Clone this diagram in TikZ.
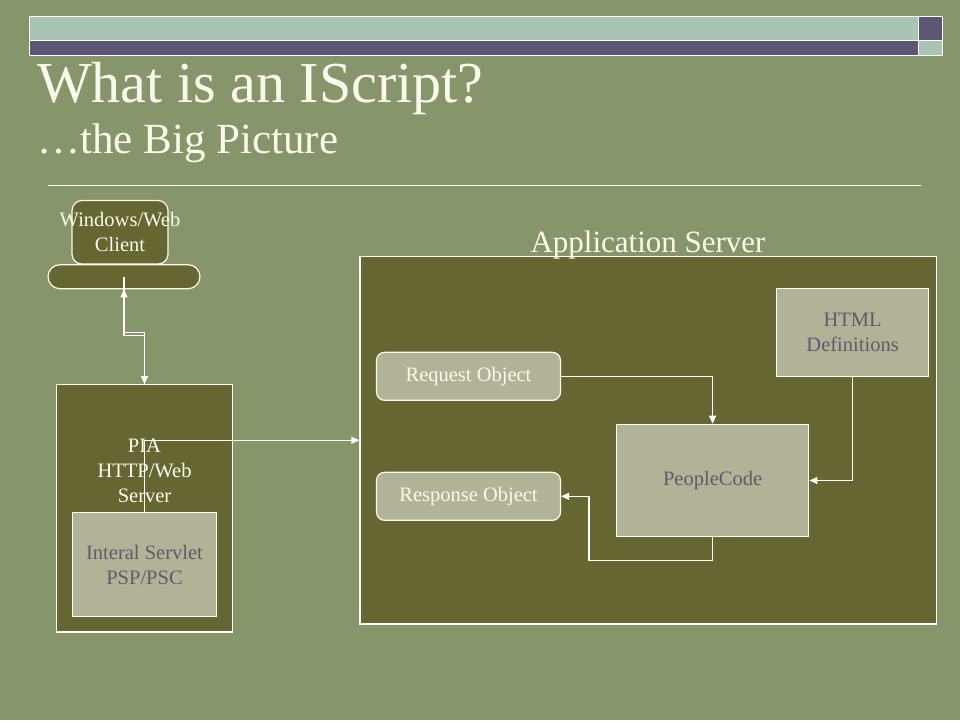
\documentclass[tikz,border=0pt]{standalone}
\usepackage{fontspec}
\setmainfont{Liberation Serif}
\usetikzlibrary{arrows.meta}

\definecolor{bg}{RGB}{134,150,106}
\definecolor{olive}{RGB}{102,102,51}
\definecolor{boxgray}{RGB}{178,178,150}
\definecolor{txtpurple}{RGB}{95,90,112}
\definecolor{cream}{RGB}{250,250,236}
\definecolor{stripa}{RGB}{170,196,180}
\definecolor{stripb}{RGB}{92,85,115}

\tikzset{
  box/.style={draw=white, line width=1.2pt, fill=boxgray, text=txtpurple, inner sep=0pt,
    align=center, font=\fontsize{20.5}{25}\selectfont},
  objbox/.style={box, draw=cream, rounded corners=8pt, text=cream},
  darkbox/.style={draw=white, line width=1.2pt, fill=olive, inner sep=0pt},
  lbl/.style={text=cream, inner sep=0pt, align=center, font=\fontsize{20.5}{25}\selectfont},
  link/.style={draw=white, line width=1.2pt, -{Triangle[width=7pt,length=8pt]}}
}

\begin{document}
\begin{tikzpicture}[x=1pt,y=-1pt]
\useasboundingbox (0,0) rectangle (960,720);
\fill[bg] (0,0) rectangle (960,720);
% top bar
\draw[white, line width=1pt, fill=stripa] (29.4,16) rectangle (918,40.3);
\draw[white, line width=1pt, fill=stripb] (918,16) rectangle (942,40.3);
\draw[white, line width=1pt, fill=stripb] (29.4,40.3) rectangle (918,55.3);
\draw[white, line width=1pt, fill=stripa] (918,40.3) rectangle (942,55.3);
% title
\node[anchor=base west, inner sep=0pt, text=cream, font=\fontsize{58}{64}\selectfont] (title) at (37,102) {What is an IScript?};
\node[anchor=base west, inner sep=0pt, text=cream, font=\fontsize{43}{48}\selectfont] (subtitle) at (37,153) {…the Big Picture};
\draw[cream, line width=1pt] (48,185) -- (921,185);

% client
\node[darkbox, draw=cream, rounded corners=10pt, minimum width=96pt, minimum height=63.5pt] (client) at (120,232.3) {};
\node[darkbox, draw=cream, rounded corners=12pt, minimum width=152pt, minimum height=24pt] (base) at (124,276.7) {};
\node[lbl] (clienttxt) at (client) {Windows/Web\\Client};

% web server
\node[darkbox, minimum width=176.4pt, minimum height=247.3pt] (pia) at (144.5,508.4) {};
\node[lbl] (pialbl) at (144.5,470.5) {PIA\\HTTP/Web\\Server};
\node[box, minimum width=144.4pt, minimum height=104.4pt] (servlet) at (144.5,564.5) {Interal Servlet\\PSP/PSC};

% application server
\node[darkbox, minimum width=576.7pt, minimum height=367.5pt] (app) at (648.3,440.3) {};
\node[anchor=base, inner sep=0pt, text=cream, font=\fontsize{31}{36}\selectfont] (applbl) at (648,252) {Application Server};
\node[objbox, minimum width=183.9pt, minimum height=48pt] (request) at (468.5,376.3) {Request Object};
\node[objbox, minimum width=183.9pt, minimum height=48pt] (response) at (468.5,496.3) {Response Object};
\node[box, minimum width=152pt, minimum height=88.4pt] (html) at (852.6,332.5) {HTML\\Definitions};
\node[box, minimum width=192.4pt, minimum height=112.4pt] (pcode) at (712.6,480.5) {PeopleCode};

% connectors
\draw[link] (pia.north) -- ([yshift=52pt]pia.north) -| (base.south);
\draw[link] (base.center) |- ([yshift=49pt]pia.north) -- (pia.north);
\draw[link] (servlet.north) |- (app.west);
\draw[link] (request.east) -| (pcode.north);
\draw[link] (html.south) |- (pcode.east);
\draw[link] (pcode.south) -- ++(0,23.3) -| ([xshift=28pt]response.east) -- (response.east);
\end{tikzpicture}
\end{document}
